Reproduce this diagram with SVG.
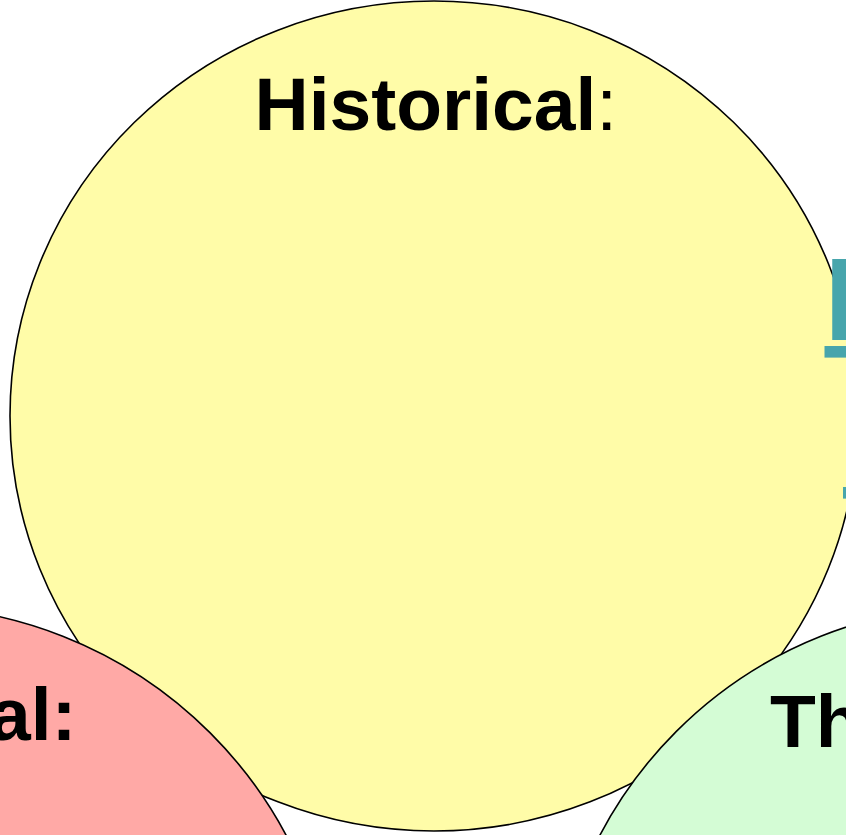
<svg xmlns="http://www.w3.org/2000/svg" width="846" height="835" viewBox="0 0 846 835">
<style>
.c{stroke:#000;stroke-width:1.6}
.t{font-family:"Liberation Sans",Arial,sans-serif;font-weight:bold;font-size:75px;fill:#000}
.lnk{font-family:"Liberation Sans",Arial,sans-serif;font-weight:bold;font-size:116px;fill:#47A5AC;text-decoration:underline}
</style>
<rect width="846" height="835" fill="#fff"/>
<g id="historical">
<ellipse class="c" cx="434" cy="416" rx="424" ry="415" fill="#FFFCA8"/>
<text class="t" x="254.5" y="130">Historical<tspan font-weight="normal">:</tspan></text>
</g>
<g id="link">
<text class="lnk" x="824.5" y="340">E</text>
<text class="lnk" x="843" y="481">E</text>
</g>
<g id="left">
<circle class="c" cx="-96" cy="1039" r="433" fill="#FFA9A6"/>
<text class="t" x="-11" y="740">al:</text>
</g>
<g id="right">
<circle class="c" cx="979" cy="1034" r="428" fill="#D4FCD5"/>
<text class="t" x="770" y="747">Th</text>
</g>
<g id="connectors"/>
</svg>
